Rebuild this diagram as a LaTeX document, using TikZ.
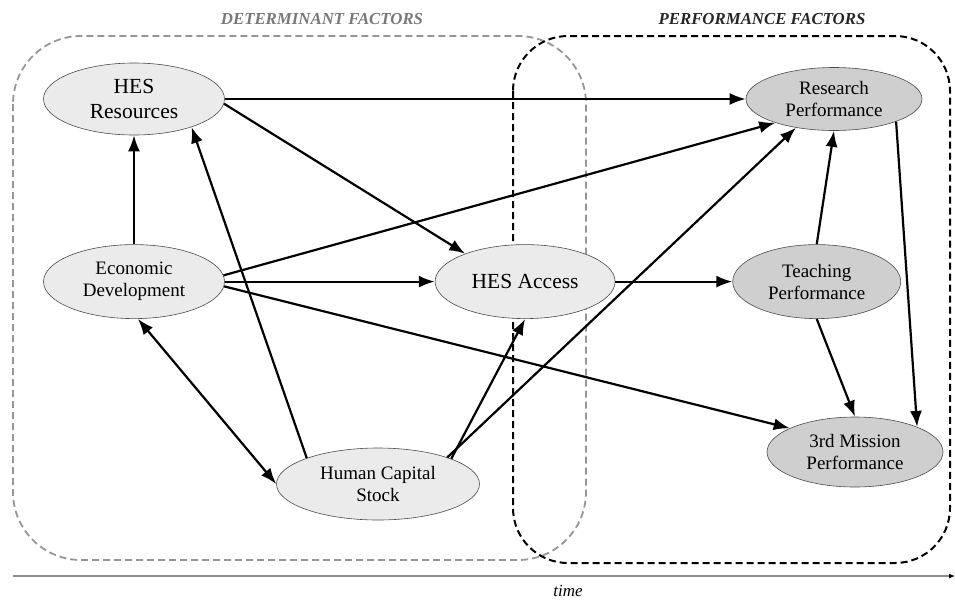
\documentclass[tikz,border=0pt]{standalone}
\usepackage{fontspec}
\setmainfont{Liberation Serif}
\usepackage{tikz}
\usetikzlibrary{shapes.geometric, arrows.meta, positioning}
\definecolor{detfill}{RGB}{235,235,235}
\definecolor{perffill}{RGB}{207,207,207}
\definecolor{boxgray}{RGB}{150,150,150}
\definecolor{titlegray}{RGB}{120,120,120}

\begin{document}
\begin{tikzpicture}[x=1pt, y=-1pt,
    detnode/.style={ellipse, draw=black!70, line width=0.6pt, fill=detfill, inner sep=0pt, minimum width=181pt, minimum height=74pt, align=center, font=\fontsize{19}{22}\selectfont},
    perfnode/.style={detnode, fill=perffill},
    bigtext/.style={font=\fontsize{21.5}{24.5}\selectfont},
    arrow/.style={-{Latex[length=16pt, width=12pt]}, line width=2.2pt},
    dblarrow/.style={{Latex[length=16pt, width=12pt]}-{Latex[length=16pt, width=12pt]}, line width=2.2pt},
    factorlabel/.style={font=\fontsize{16.8}{19}\selectfont\bfseries\itshape}
]
\useasboundingbox (0,0) rectangle (955,600);

% Frames
\draw[boxgray, line width=1.8pt, dash pattern=on 7pt off 4pt, rounded corners=68pt] (13,36) rectangle (586,560);
\draw[black, line width=2pt, dash pattern=on 7pt off 4pt, rounded corners=55pt] (513,36) rectangle (950,563);
\node[factorlabel, text=titlegray] (detlabel) at (322,19) {DETERMINANT FACTORS};
\node[factorlabel, text=black!85] (perflabel) at (762,19) {PERFORMANCE FACTORS};

% Determinant factors
\node[detnode, bigtext, minimum height=72pt] (hesres) at (134,99) {HES\\Resources};
\node[detnode, below=109pt of hesres] (econ) {Economic\\Development};
\node[detnode, bigtext, minimum width=180pt, right=210pt of econ] (access) {HES Access};
\node[detnode, minimum width=203pt, minimum height=72pt] (hcs) at (378,484) {Human Capital\\Stock};

% Performance factors
\node[perfnode, minimum width=176pt, minimum height=63pt] (research) at (834,99) {Research\\Performance};
\node[perfnode, minimum width=168pt, right=117pt of access] (teaching) {Teaching\\Performance};
\node[perfnode, minimum width=176pt, minimum height=70pt] (mission) at (855,452) {3rd Mission\\Performance};

% Arrows
\draw[arrow] (hesres.east) -- (research.west);
\draw[arrow] (hesres.-3) -- (access.155);
\draw[arrow] (econ.north) -- (hesres.south);
\draw[arrow] (econ.4) -- (research.202);
\draw[arrow] (econ.east) -- (access.west);
\draw[arrow] (econ.-3) -- (mission.160);
\draw[dblarrow] (econ.-84) -- (hcs.west);
\draw[arrow] (hcs.160) -- (hesres.-26);
\draw[arrow] (hcs.19) -- (access.south);
\draw[arrow] (hcs.21) -- (research.217);
\draw[arrow] (access.east) -- (teaching.west);
\draw[arrow] (teaching.north) -- (research.south);
\draw[arrow] (teaching.south) -- (mission.north);
\draw[arrow] (research.-20) -- (mission.22);

% Time axis
\coordinate (tstart) at (13,576);
\coordinate (tend) at (955,576);
\draw[-{Latex[length=6pt, width=5pt, black]}, black!45, line width=1.2pt] (tstart) -- (tend);
\node[font=\fontsize{17}{19}\selectfont\itshape] (timelabel) at (568,591) {time};

\end{tikzpicture}
\end{document}
